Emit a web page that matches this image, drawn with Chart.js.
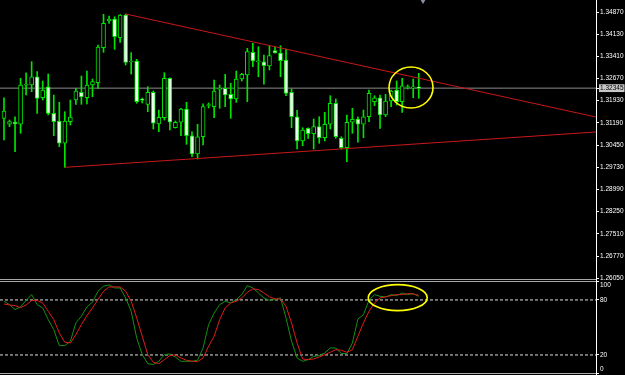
<!DOCTYPE html>
<html><head><meta charset="utf-8">
<script src="https://cdn.jsdelivr.net/npm/chart.js@4.4.1/dist/chart.umd.min.js"></script>
<style>
html,body{margin:0;padding:0;background:#000;width:625px;height:375px;overflow:hidden}
#wrap{position:relative;width:625px;height:375px}
#main{position:absolute;left:0;top:0;width:625px;height:292px}
#stoch{position:absolute;left:0;top:280px;width:625px;height:95px}
.hl{position:absolute;left:0;width:596px;height:1px;background:#a8a8a8}
#vax{position:absolute;left:596px;top:0;width:1px;height:375px;background:#fff}
#shift{position:absolute;left:420px;top:-1px;width:0;height:0;border-left:3px solid transparent;border-right:3px solid transparent;border-top:5px solid #8890a0}
</style></head>
<body><div id="wrap">
<canvas id="main" width="625" height="292"></canvas>
<canvas id="stoch" width="625" height="95"></canvas>
<div class="hl" style="top:279px"></div><div class="hl" style="top:281px"></div><div class="hl" style="top:373px"></div>
<div id="vax"></div><div id="shift"></div>
</div>
<script>
// ---- data ----
const opens  = [1.31345,1.31147,1.31223,1.31147,1.32440,1.32450,1.32724,1.32028,1.32393,1.31511,
1.31256,1.30517,1.31233,1.31952,1.32208,1.32028,1.32450,1.32526,1.33686,1.34572,
1.34638,1.34018,1.34771,1.33212,1.33245,1.31952,1.31809,1.32208,1.31156,1.31365,
1.32671,1.31033,1.31213,1.31653,1.30768,1.30161,1.30735,1.31770,1.31730,1.32307,
1.32340,1.32141,1.31985,1.32648,1.32781,1.33534,1.33222,1.33222,1.33079,1.33587,
1.33510,1.33278,1.32208,1.31398,1.30592,1.31013,1.30834,1.31067,1.30702,1.31147,
1.31843,1.30682,1.30370,1.31213,1.31322,1.31147,1.31398,1.31896,1.32028,1.31455,
1.31919,1.32284,1.31896,1.32366,1.32353,1.32360];
const highs  = [1.32028,1.31289,1.31398,1.32671,1.32857,1.33222,1.32891,1.32582,1.32814,1.32118,
1.31876,1.31564,1.31952,1.32340,1.32748,1.32914,1.32648,1.33776,1.34794,1.34737,
1.34714,1.34787,1.34804,1.33521,1.33302,1.32018,1.32393,1.32251,1.31620,1.32857,
1.32691,1.31256,1.31677,1.31876,1.30900,1.31147,1.31829,1.31853,1.32615,1.32450,
1.32804,1.32506,1.32914,1.32837,1.33666,1.33832,1.33719,1.33444,1.33753,1.33719,
1.33753,1.33643,1.32317,1.31610,1.31033,1.31033,1.31322,1.31398,1.31544,1.32095,
1.31985,1.30735,1.31455,1.31677,1.31398,1.31620,1.32284,1.32095,1.32118,1.32141,
1.32284,1.32582,1.32671,1.32450,1.32648,1.32837];
const lows   = [1.30626,1.31067,1.30238,1.30848,1.32118,1.32228,1.31511,1.31952,1.31455,1.30768,
1.30403,1.29720,1.31123,1.31809,1.31809,1.31819,1.32061,1.32340,1.33534,1.34495,
1.33633,1.33865,1.33113,1.32814,1.31843,1.31853,1.31564,1.30990,1.30900,1.31289,
1.30957,1.31023,1.30768,1.30483,1.30072,1.29995,1.30460,1.31687,1.31365,1.31677,
1.31730,1.31345,1.31876,1.32582,1.31896,1.33056,1.32724,1.32473,1.32947,1.33501,
1.32724,1.32095,1.31033,1.30327,1.30437,1.30682,1.30327,1.30517,1.30592,1.30990,
1.30682,1.30327,1.29906,1.30848,1.30550,1.30702,1.31233,1.31763,1.31013,1.31398,
1.31730,1.31786,1.31544,1.32317,1.32028,1.32008];
const closes = [1.31587,1.31233,1.31156,1.32450,1.32450,1.32724,1.32008,1.32284,1.31511,1.31233,
1.30517,1.31256,1.31388,1.32251,1.32052,1.32450,1.32559,1.33710,1.34495,1.34638,
1.34051,1.34771,1.33202,1.33229,1.31896,1.31945,1.32208,1.31180,1.31378,1.32671,
1.31213,1.31213,1.31653,1.30768,1.30161,1.30735,1.31730,1.31786,1.32251,1.32317,
1.32118,1.31985,1.32648,1.32804,1.33554,1.33245,1.33232,1.33089,1.33421,1.33510,
1.33255,1.32174,1.31398,1.30592,1.30957,1.30834,1.31067,1.30702,1.31147,1.31843,
1.30735,1.30370,1.31213,1.31312,1.31147,1.31398,1.32174,1.32028,1.31455,1.31919,
1.32251,1.31896,1.32426,1.32373,1.32360,1.32345];
const stochMain   = [78.5,74.9,69.5,72.4,79.6,85.8,74.9,71.3,58.5,47.6,30.2,30.2,34.9,54.9,62.2,72.4,77.5,89.5,94.9,96.4,
93.1,93.1,82.2,67.6,38.5,20.4,10.5,9.5,13.1,20.4,21.1,17.8,13.1,13.1,13.1,14.2,27.6,53.1,65.8,74.9,
78.5,76.7,80.4,85.8,95.6,93.1,87.6,82.2,79.6,80.4,82.2,60.4,34.9,16.7,13.1,14.9,18.5,19.3,22.2,27.6,
27.6,21.5,21.5,33.1,59.3,64,79.6,85.8,84,83.3,85.8,84.7,87.6,85.8,86.9,84];
const stochSignal = [75.6,74.5,73.8,71.6,74.5,79.3,79.6,76.7,67.6,58.5,44,33.8,33.1,42.2,53.1,62.9,71.3,80.4,89.5,94.2,
94.2,94.2,89.5,78.5,60.4,40.4,20.4,12,10.5,14.9,19.3,20,16.7,14.2,13.1,12.7,16.7,29.5,40.4,58.5,
71.3,76.7,78.5,82.2,88.4,92,91.3,87.6,83.3,81.1,81.1,73.1,54.9,33.1,15.6,14.9,15.6,17.8,20.4,22.9,
25.8,25.1,22.9,25.8,40.4,54.9,67.6,76.7,82.2,83.3,84.7,85.8,85.8,86.9,86.5,85.1];
const priceTicks = [1.34870,1.34130,1.33410,1.32670,1.31930,1.31190,1.30450,1.29730,1.28990,1.28250,1.27510,1.26770,1.26050];
const bidPrice = 1.32345;
const stochTicks = [100,80,20,0];
const stochLevels = [80,20];
// trend lines: [barIndex, price] anchors
const upperTrendX = [22, 107.05], upperTrendY = [1.34804, 1.31388];
const lowerTrendX = [11, 107.05], lowerTrendY = [1.29720, 1.30891];

// ---- view settings ----
const xMin = -0.72, xMax = 107.05;
const GREEN = '#00e400', BEARFILL = '#eaffea';
const FONT = {family:'Liberation Sans', size:6.5};

const idx = opens.map((_, i) => i);
const bodies = idx.map(i => ({x:i, y:[opens[i], closes[i]]}));
const wicks  = idx.map(i => ({x:i, y:[lows[i], highs[i]]}));
const fills  = idx.map(i => closes[i] < opens[i] ? BEARFILL : '#000000');
const toPts = (xs, ys) => xs.map((x, i) => ({x, y: ys[i]}));

const ellipsePlugin = {
  id: 'ellipse',
  afterDatasetsDraw(chart, args, opts) {
    const {ctx, scales:{x, y}} = chart;
    (opts.items || []).forEach(e => {
      const cx = x.getPixelForValue(e.x), cy = y.getPixelForValue(e.y);
      const rx = Math.abs(x.getPixelForValue(e.x + e.rx) - cx);
      const ry = Math.abs(y.getPixelForValue(e.y + e.ry) - cy);
      ctx.save();
      ctx.strokeStyle = '#ffff00'; ctx.lineWidth = 1.6;
      ctx.beginPath(); ctx.ellipse(cx, cy, rx, ry, 0, 0, Math.PI * 2); ctx.stroke();
      ctx.restore();
    });
  }
};

new Chart(document.getElementById('main'), {
  type: 'bar',
  data: { datasets: [
    {type:'line', data: toPts(upperTrendX, upperTrendY), borderColor:'#c81818', borderWidth:1, pointRadius:0, order:0},
    {type:'line', data: toPts(lowerTrendX, lowerTrendY), borderColor:'#c81818', borderWidth:1, pointRadius:0, order:0},
    {type:'bar', data: bodies, backgroundColor: fills, borderColor: GREEN, borderWidth:1, borderSkipped:false,
     barThickness:4, grouped:false, minBarLength:1, order:1},
    {type:'bar', data: wicks, backgroundColor: GREEN, borderWidth:0, barThickness:1, grouped:false, order:2},
    {type:'line', data: toPts([xMin, xMax], [bidPrice, bidPrice]), borderColor:'#8c8c8c', borderWidth:1, pointRadius:0, order:3}
  ]},
  options: {
    responsive:false, animation:false, events:[],
    layout:{padding:{left:0, right:0, top:0, bottom:13}},
    plugins:{legend:{display:false}, tooltip:{enabled:false},
      ellipse:{items:[{x:73.6, y:1.32367, rx:3.98, ry:0.0068}]}},
    scales:{
      x:{type:'linear', min:xMin, max:xMax, display:false, offset:false},
      y:{type:'linear', position:'right', min:1.26017, max:1.35268,
        afterBuildTicks: s => { s.ticks = priceTicks.concat([bidPrice]).map(v => ({value:v})); },
        afterFit: s => { s.width = 29; s.paddingTop = 0; s.paddingBottom = 0; },
        grid:{drawOnChartArea:false, drawTicks:true, tickLength:3, color:'#ffffff'},
        border:{display:false},
        ticks:{autoSkip:false, padding:1, font:FONT,
          color: c => (c.tick && c.tick.value === bidPrice) ? '#000000' : '#ffffff',
          showLabelBackdrop: c => !!(c.tick && c.tick.value === bidPrice),
          backdropColor:'#c8c8c8', backdropPadding:{left:1, right:1, top:0, bottom:0},
          callback: v => Number(v).toFixed(5)}
      }
    }
  },
  plugins:[ellipsePlugin]
});

new Chart(document.getElementById('stoch'), {
  type: 'line',
  data: { datasets: [
    {data: idx.map(i => ({x:i, y:stochSignal[i]})), borderColor:'#e01c1c', borderWidth:1, pointRadius:0},
    {data: idx.map(i => ({x:i, y:stochMain[i]})), borderColor:'#139013', borderWidth:1, pointRadius:0},
    {data: toPts([xMin, xMax], [stochLevels[0], stochLevels[0]]), borderColor:'#e0e0e0', borderDash:[3,2], borderWidth:1, pointRadius:0},
    {data: toPts([xMin, xMax], [stochLevels[1], stochLevels[1]]), borderColor:'#e0e0e0', borderDash:[3,2], borderWidth:1, pointRadius:0}
  ]},
  options: {
    responsive:false, animation:false, events:[],
    layout:{padding:{left:0, right:0, top:1.6, bottom:1.7}},
    plugins:{legend:{display:false}, tooltip:{enabled:false},
      ellipse:{items:[{x:71.2, y:82.5, rx:5.33, ry:14.2}]}},
    scales:{
      x:{type:'linear', min:xMin, max:xMax, display:false, offset:false},
      y:{type:'linear', position:'right', min:0, max:100,
        afterBuildTicks: s => { s.ticks = stochTicks.map(v => ({value:v})); },
        afterFit: s => { s.width = 29; s.paddingTop = 0; s.paddingBottom = 0; },
        grid:{drawOnChartArea:false, drawTicks:true, tickLength:3, color:'#ffffff'},
        border:{display:false},
        ticks:{autoSkip:false, padding:1, font:FONT, color:'#ffffff',
          callback: v => v === 100 ? ['', '100'] : (v === 0 ? ['0', ''] : String(v))}
      }
    }
  },
  plugins:[ellipsePlugin]
});
</script>
</body></html>
